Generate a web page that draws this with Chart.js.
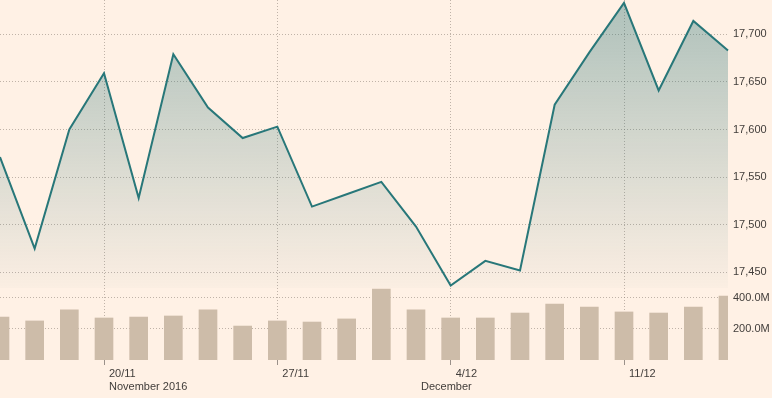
<!DOCTYPE html>
<html>
<head>
<meta charset="utf-8">
<script src="https://cdn.jsdelivr.net/npm/chart.js@4/dist/chart.umd.min.js"></script>
<style>
  html, body { margin: 0; padding: 0; background: #fff1e5; }
  #wrap { width: 772px; height: 398px; position: relative; }
</style>
</head>
<body>
<div id="wrap"><canvas id="c"></canvas></div>
<script>
// ---- data ----
const dates = ['15/11','16/11','17/11','20/11','21/11','22/11','23/11','24/11','27/11','28/11','29/11',
               '30/11','1/12','4/12','5/12','6/12','7/12','8/12','11/12','12/12','13/12','14/12'];
const prices = [17571, 17475, 17600, 17659, 17528, 17679, 17623, 17591, 17603, 17519, 17532,
                17545, 17498, 17436, 17462, 17452, 17626, 17681, 17733, 17641, 17714, 17683];
const volumes = [277e6, 252e6, 323e6, 271e6, 277e6, 284e6, 323e6, 219e6, 252e6, 245e6, 265e6,
                 458e6, 323e6, 271e6, 271e6, 303e6, 361e6, 342e6, 310e6, 303e6, 342e6, 413e6];
const xTickLabels = ['20/11', '27/11', '4/12', '11/12'];
const monthLabels = [{ at: '20/11', text: 'November 2016' }, { at: '1/12', text: 'December' }];
const priceTicks = [17450, 17500, 17550, 17600, 17650, 17700];
const volumeTicks = [200e6, 400e6];

// ---- style ----
const textColor = '#413d3a';
const gridColor = 'rgba(140,128,118,0.55)';
const lineColor = '#287779';
const barColor = '#cdbca9';
const FONT = '"Liberation Sans", Arial, sans-serif';

Chart.defaults.font.family = FONT;
Chart.defaults.font.size = 11;
Chart.defaults.color = textColor;

const noPad = (s) => { s.paddingTop = 0; s.paddingBottom = 0; s.paddingLeft = 0; s.paddingRight = 0; };

const monthPlugin = {
  id: 'months',
  afterDraw(chart) {
    const x = chart.scales.x;
    const c = chart.ctx;
    c.save();
    c.font = '11px ' + FONT;
    c.fillStyle = textColor;
    c.textAlign = 'left';
    c.textBaseline = 'alphabetic';
    monthLabels.forEach(m => {
      const px = x.getPixelForValue(dates.indexOf(m.at));
      c.fillText(m.text, px + 5, x.top + 30);
    });
    c.restore();
  }
};

new Chart(document.getElementById('c'), {
  data: {
    labels: dates,
    datasets: [
      {
        type: 'line',
        data: prices,
        yAxisID: 'y',
        borderColor: lineColor,
        borderWidth: 2,
        pointRadius: 0,
        tension: 0,
        fill: 'start',
        order: 1,
        backgroundColor: (ctx) => {
          const chart = ctx.chart;
          const area = chart.chartArea;
          if (!area) return 'rgba(0,0,0,0)';
          const ys = chart.scales.y;
          const g = chart.ctx.createLinearGradient(0, ys.top, 0, ys.bottom);
          g.addColorStop(0, 'rgba(42,115,118,0.38)');
          g.addColorStop(1, 'rgba(42,115,118,0.02)');
          return g;
        }
      },
      {
        type: 'bar',
        data: volumes,
        yAxisID: 'yv',
        backgroundColor: barColor,
        barThickness: 18,
        order: 2
      }
    ]
  },
  options: {
    responsive: true,
    maintainAspectRatio: false,
    animation: false,
    layout: { padding: 0 },
    plugins: { legend: { display: false }, tooltip: { enabled: false } },
    scales: {
      x: {
        type: 'category',
        offset: false,
        afterBuildTicks: (s) => { s.ticks = xTickLabels.map(l => ({ value: dates.indexOf(l) })); },
        afterFit: (s) => { s.height = 38; noPad(s); },
        grid: { offset: false, color: gridColor, drawTicks: true, tickLength: 5, tickColor: '#9a918a', tickBorderDash: [] },
        border: { display: false, dash: [1, 2] },
        ticks: { autoSkip: false, maxRotation: 0, align: 'start', labelOffset: 5, padding: 2, color: textColor }
      },
      y: {
        type: 'linear',
        position: 'right',
        stack: 'main',
        stackWeight: 4,
        min: 17433.5,
        max: 17736,
        afterBuildTicks: (s) => { s.ticks = priceTicks.map(v => ({ value: v })); },
        afterFit: (s) => { s.width = 44; noPad(s); },
        grid: { color: gridColor, drawTicks: false },
        border: { display: false, dash: [1, 2] },
        ticks: { padding: 5, color: textColor, callback: (v) => v.toLocaleString('en-US') }
      },
      yv: {
        type: 'linear',
        position: 'right',
        stack: 'main',
        stackWeight: 1,
        min: 0,
        max: 464.5e6,
        afterBuildTicks: (s) => { s.ticks = volumeTicks.map(v => ({ value: v })); },
        afterFit: (s) => { s.width = 44; noPad(s); },
        grid: { color: gridColor, drawTicks: false },
        border: { display: false, dash: [1, 2] },
        ticks: { padding: 5, color: textColor, callback: (v) => (v / 1e6).toFixed(1) + 'M' }
      }
    }
  },
  plugins: [monthPlugin]
});
</script>
</body>
</html>
